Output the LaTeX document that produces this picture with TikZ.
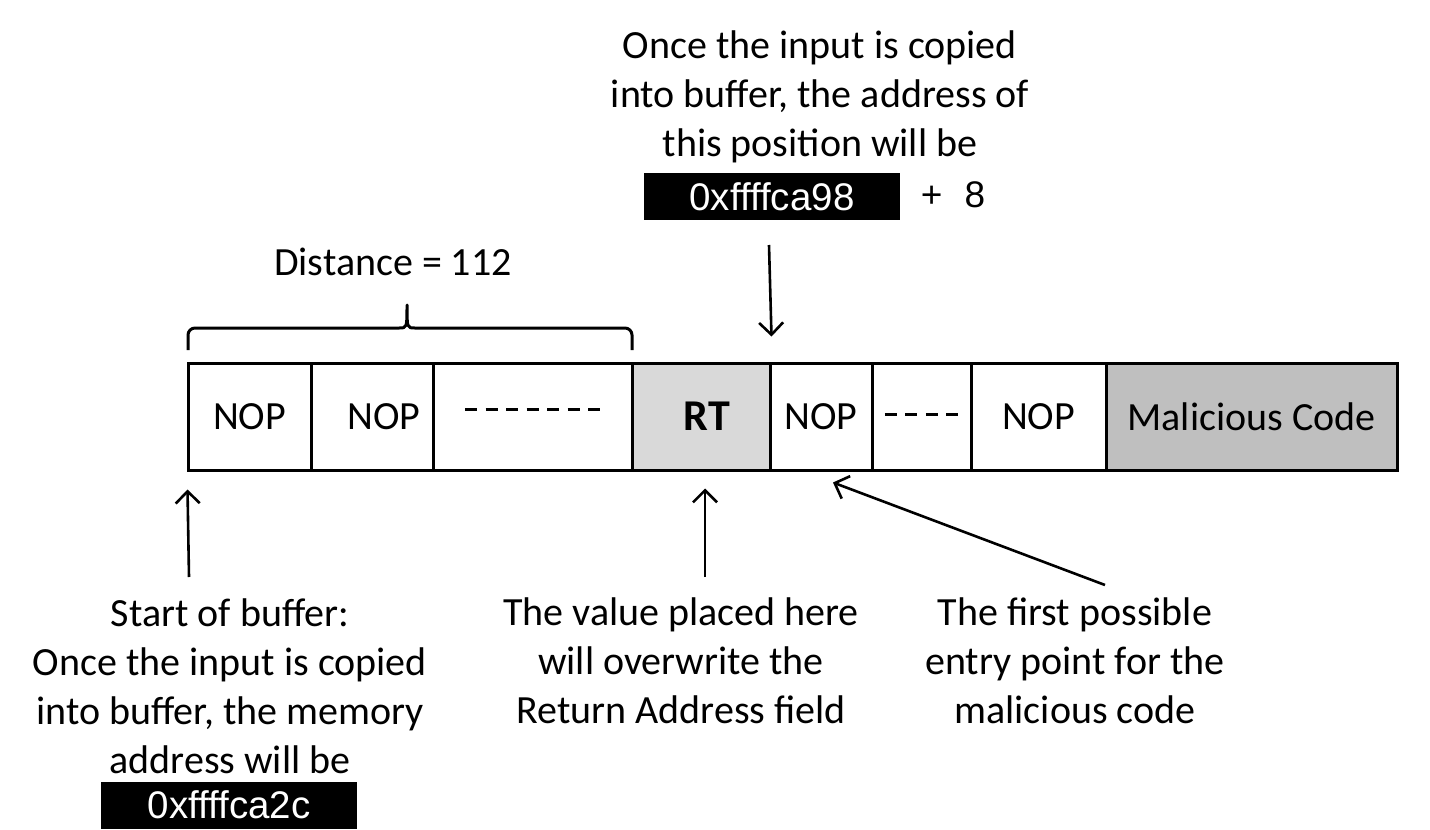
\documentclass[tikz,border=0pt]{standalone}
\usepackage{fontspec}
\setmainfont{Carlito}
\newfontfamily\hexfont{Liberation Sans}
\usetikzlibrary{arrows.meta}

\definecolor{rtgray}{RGB}{217,217,217}
\definecolor{codegray}{RGB}{191,191,191}

% a row of short dashes, #1 = how many, #2 = raise
\newcommand{\dashrow}[2]{\rule[#2]{12pt}{3pt}\foreach \k in {2,...,#1}{\hspace{8.5pt}\rule[#2]{12pt}{3pt}}}

\begin{document}
\begin{tikzpicture}[x=1pt, y=-1pt]
    % Styles
    \tikzstyle{cell} = [rectangle, draw=black, line width=3pt, minimum height=107pt, inner sep=0pt, font=\fontsize{40}{49}\selectfont]
    \tikzstyle{note} = [align=center, inner sep=0pt, font=\fontsize{40}{49}\selectfont]
    \tikzstyle{hexbox} = [rectangle, fill=black, text=white, minimum width=256pt, minimum height=47pt, inner sep=0pt, font=\hexfont\fontsize{38.5}{44}\selectfont]
    \tikzstyle{arrow} = [-{Straight Barb[length=12pt, width=24pt]}, line width=2.6pt]
    \tikzstyle{brace} = [line width=3pt, line join=round]

    \useasboundingbox (0,0) rectangle (1430,830);

    % Memory cells
    \node[cell, minimum width=123pt] (c1) at (249.5,416.5) {NOP};
    \node[cell, minimum width=122pt] (c2) at (372,416.5) {\hspace*{24pt}NOP};
    \node[cell, minimum width=199pt] (c3) at (532.5,416.5) {\dashrow{7}{15pt}};
    \node[cell, minimum width=138pt, fill=rtgray] (rt) at (701,416.5) {\hspace*{12pt}\raisebox{-3pt}{\fontsize{44}{49}\selectfont\bfseries RT}};
    \node[cell, minimum width=102pt] (c5) at (821,416.5) {NOP};
    \node[cell, minimum width=99pt] (c6) at (921.5,416.5) {\dashrow{4}{5pt}};
    \node[cell, minimum width=135pt] (c7) at (1038.5,416.5) {NOP};
    \node[cell, minimum width=291pt, fill=codegray] (code) at (1251.5,416.5) {Malicious Code};

    % Brace over the buffer
    \draw[brace] (188,350) [rounded corners=7pt] -- (188,328) -- (300,328) [sharp corners] -- (399,328)
        .. controls (407,328) .. (407,305) .. controls (407,328) .. (415,328)
        [rounded corners=7pt] -- (632,328) -- (632,350);
    \node[note] (dist) at (393,262) {Distance = 112};

    % Notes
    \node[note] (topnote) at (820,97) {Once the input is copied\\into buffer, the address of\\this position will be};
    \node[hexbox] (tophex) at (772,196.5) {0xffffca98};
    \node[inner sep=0pt, font=\hexfont\fontsize{37}{44}\selectfont] (plus) at (953,195) {+\hspace{22pt}8};

    \node[note] (startnote) at (230,686) {Start of buffer:\\Once the input is copied\\into buffer, the memory\\address will be};
    \node[hexbox] (starthex) at (229,805) {0xffffca2c};
    \node[note] (rtnote) at (681,661) {The value placed here\\will overwrite the\\Return Address field};
    \node[note] (entrynote) at (1075,661) {The first possible\\entry point for the\\malicious code};

    % Arrows
    \coordinate (topTail) at (769,245);
    \coordinate (startTail) at (189,577);
    \coordinate (rtTail) at (705,577);
    \coordinate (entryTail) at (1105,585);
    \draw[arrow] (topTail) -- ([yshift=25pt]rt.north east);
    \draw[arrow] (startTail) -- ([shift={(1,18)}]c1.south west);
    \draw[arrow] (rtTail) -- ([shift={(4,17)}]rt.south);
    \draw[arrow] (entryTail) -- ([shift={(12,11)}]c5.south);
\end{tikzpicture}
\end{document}
